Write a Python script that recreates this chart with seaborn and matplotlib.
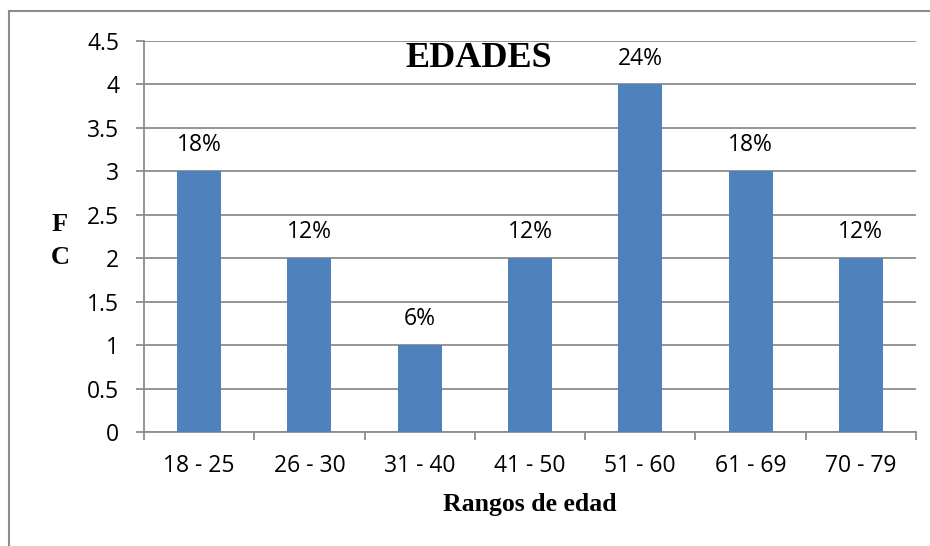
import matplotlib
matplotlib.use("Agg")
import matplotlib.pyplot as plt
import seaborn as sns
import pandas as pd
import numpy as np
from matplotlib.patches import Rectangle

categories = ["18 - 25", "26 - 30", "31 - 40", "41 - 50", "51 - 60", "61 - 69", "70 - 79"]
values = [3, 2, 1, 2, 4, 3, 2]
percent_labels = ["18%", "12%", "6%", "12%", "24%", "18%", "12%"]
y_ticks = [0, 0.5, 1, 1.5, 2, 2.5, 3, 3.5, 4, 4.5]
y_tick_labels = ["0", "0.5", "1", "1.5", "2", "2.5", "3", "3.5", "4", "4.5"]

sns.set_theme(style="white")
plt.rcParams['font.family'] = ['Open Sans', 'DejaVu Sans']
plt.rcParams['text.color'] = 'black'
plt.rcParams['axes.labelcolor'] = 'black'
plt.rcParams['xtick.color'] = 'black'
plt.rcParams['ytick.color'] = 'black'

df = pd.DataFrame({"rango": categories, "fc": values})

fig = plt.figure(figsize=(9.3, 5.46), dpi=100)
ax = fig.add_axes([144/930, 1-432/546, (916-144)/930, (432-41)/546])

GRID = "#8c8c8c"
BAR = "#4f81bd"

sns.barplot(data=df, x="rango", y="fc", color=BAR, width=0.4, saturation=1,
            ax=ax, zorder=3, edgecolor=BAR, linewidth=0)

ax.set_ylim(0, 4.5)
ax.set_xlim(-0.5, len(categories) - 0.5)
ax.set_yticks(y_ticks)
ax.set_yticklabels(y_tick_labels)
ax.yaxis.grid(True, color=GRID, linewidth=1.3, zorder=0)
ax.xaxis.grid(False)
ax.set_axisbelow(True)

for s in ["top", "right"]:
    ax.spines[s].set_visible(False)
for s in ["left", "bottom"]:
    ax.spines[s].set_color(GRID)
    ax.spines[s].set_linewidth(1.3)

ax.tick_params(axis="y", which="major", length=6, width=1.3, color=GRID,
               labelsize=16.5, pad=12, left=True, labelcolor="black")
ax.tick_params(axis="x", which="major", length=0, labelsize=16.5, pad=16,
               labelcolor="black")
ax.set_xticks(np.arange(-0.5, len(categories)), minor=True)
ax.tick_params(axis="x", which="minor", length=6, width=1.3, color=GRID,
               bottom=True, direction="out")

ax.bar_label(ax.containers[0], labels=percent_labels, padding=10, fontsize=16.5,
             color="black")

ax.set_xlabel("Rangos de edad", family="Liberation Serif", fontweight="bold",
              fontsize=18.5, labelpad=11, color="black")
ax.set_ylabel("")

fig.text(60/930, 1-241/546, "F\nC", family="Liberation Serif", fontweight="bold",
         fontsize=19, ha="center", va="center", linespacing=1.55, color="black")

ax.text(0.4335, 0.955, "EDADES", transform=ax.transAxes, family="Liberation Serif",
        fontweight="bold", fontsize=26, ha="center", va="center", color="black")

fig.patches.append(Rectangle((9/930, -0.1), 2, 1 - 11/546 + 0.1,
                             transform=fig.transFigure, fill=False,
                             edgecolor="#8c8c8c", linewidth=1.5))

fig.savefig("out.png", dpi=100)
